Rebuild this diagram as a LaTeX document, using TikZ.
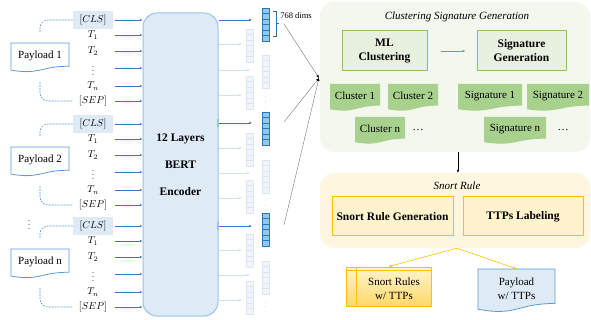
\documentclass[tikz,border=0pt]{standalone}
\usepackage{fontspec}
\setmainfont{Liberation Serif}
\usetikzlibrary{arrows.meta,calc}
\definecolor{bborder}{HTML}{9DC3E6}
\definecolor{pborder}{HTML}{5B9BD5}
\definecolor{barrow}{HTML}{4472C4}
\definecolor{encfill}{HTML}{DEEAF6}
\definecolor{clsfill}{HTML}{DEEBF7}
\definecolor{vdark}{HTML}{9DC3E6}
\definecolor{vdarkb}{HTML}{2E75B6}
\definecolor{vfade}{HTML}{F1F5FB}
\definecolor{vfadeb}{HTML}{DCE6F2}
\definecolor{afade}{HTML}{D3E0F2}
\definecolor{gpanel}{HTML}{F3F7EE}
\definecolor{gbox}{HTML}{E8F1DF}
\definecolor{gborder}{HTML}{8CC168}
\definecolor{garrow}{HTML}{70AD47}
\definecolor{gdoc}{HTML}{A9D18E}
\definecolor{ypanel}{HTML}{FFF6DF}
\definecolor{ybox}{HTML}{FFF2CC}
\definecolor{yborder}{HTML}{FFC000}
\definecolor{ytop}{HTML}{FFF4D2}
\definecolor{ybot}{HTML}{FFD966}
\definecolor{glin}{HTML}{808080}
\newcommand{\docshape}[5]{\draw[#1] (#2,#3) -- (#4,#3) -- (#4,{(#3)+0.802*((#5)-(#3))}) .. controls ({((#2)+(#4))/2},{(#3)+0.802*((#5)-(#3))}) and ({((#2)+(#4))/2},{(#3)+1.1075*((#5)-(#3))}) .. (#2,{(#3)+0.934*((#5)-(#3))}) -- cycle;}
\newcommand{\vecbar}[4]{%
  \node[#4vec] (#1) at ({#2+3.5},{#3+16.5}) {};
  \foreach \k in {1,...,5}{\draw[#4cell] (#2,{#3+5.5*\k}) -- ({#2+7},{#3+5.5*\k});}
}
\begin{document}
\begin{tikzpicture}[x=1pt,y=-1pt,
  base/.style={font=\fontsize{11}{13}\selectfont},
  tok/.style={minimum width=40pt,minimum height=0pt,inner sep=0pt,font=\fontsize{10}{12}\selectfont},
  tarr/.style={barrow,line width=0.5pt,-{Latex[length=2.5pt,width=2.2pt]},shorten <=2pt},
  darr/.style={barrow,line width=0.6pt,-{Latex[length=3pt,width=2.6pt]}},
  farr/.style={afade,line width=0.5pt,-{Latex[length=3pt,width=2.6pt]}},
  dconn/.style={pborder,line width=0.6pt,dash pattern=on 1.8pt off 1.2pt,rounded corners=8pt},
  enc/.style={font=\fontsize{11.5}{13}\selectfont\bfseries,draw=bborder,line width=1pt,fill=encfill,rounded corners=14pt,minimum width=75pt,minimum height=303pt,align=center},
  pdoc/.style={draw=pborder,line width=0.8pt,fill=white},
  ptext/.style={base,minimum width=58pt,minimum height=26pt,inner sep=0pt},
  darkvec/.style={draw=vdarkb,fill=vdark,line width=0.6pt,minimum width=7pt,minimum height=33pt,inner sep=0pt},
  darkcell/.style={vdarkb,line width=0.5pt},
  fadevec/.style={draw=vfadeb,fill=vfade,line width=0.5pt,minimum width=7pt,minimum height=33pt,inner sep=0pt},
  fadecell/.style={vfadeb,line width=0.4pt},
  glinst/.style={glin,line width=0.45pt,-{Latex[length=3pt,width=2.6pt,black]}},
  panel/.style={rounded corners=14pt,minimum width=270pt,inner sep=0pt},
  gboxst/.style={font=\fontsize{11.5}{14}\selectfont\bfseries,draw=gborder,line width=1pt,fill=gbox,align=center,inner sep=0pt},
  gdocst/.style={fill=gdoc,draw=none},
  dtext/.style={base,inner sep=0pt},
  yboxst/.style={font=\fontsize{11.5}{14}\selectfont\bfseries,draw=yborder,line width=1pt,fill=ybox,align=center,inner sep=0pt,minimum height=39pt},
  yarr/.style={yborder,line width=0.6pt,-{Latex[length=3pt,width=2.6pt]}},
  dotst/.style={fill=glin!60,draw=none}
]
\useasboundingbox (0,0) rectangle (591,320);

% ---------- encoder ----------
\node[enc] (enc) at (180.5,164.5) {12 Layers\\[14pt]BERT\\[14pt]Encoder};

% ---------- payload groups ----------
\foreach \g/\yb/\lab in {1/0/1,2/104/2,3/206/n}{
  \docshape{pdoc}{11}{43+\yb}{69}{72+\yb}
  \node[ptext] (p\g) at (40,56+\yb) {Payload \lab};
  \node[tok,fill=clsfill,minimum height=18pt] (c\g) at (93,20+\yb) {$[CLS]$};
  \node[tok] (ta\g) at (93,35+\yb) {$T_1$};
  \node[tok] (tb\g) at (93,51+\yb) {$T_2$};
  \node[tok,font=\fontsize{8}{9}\selectfont] (td\g) at (93,68+\yb) {$\vdots$};
  \node[tok] (tn\g) at (93,86+\yb) {$T_n$};
  \node[tok] (s\g) at (93,101+\yb) {$[SEP]$};
  \draw[dconn] ($(p\g.north)+(0,-11)$) |- (c\g.west);
  \draw[dconn] ($(p\g.south)+(0,13)$) |- (s\g.west);
  \foreach \t in {c,ta,tb,td,tn,s}{
    \draw[tarr] (\t\g.east) -- (\t\g.east -| enc.west);
  }
}
\node[tok,font=\fontsize{8}{9}\selectfont] (vd) at (29,222) {$\vdots$};

% ---------- encoder outputs ----------
\draw[bborder,line width=1.6pt] (218,119) -- (218,127);
\draw[bborder,line width=1.6pt] (218,222) -- (218,230);
\foreach \y/\e [count=\i] in {20/252,123/252,226/252}{
  \coordinate (ad\i) at (\e,\y);
  \draw[darr] (enc.east |- ad\i) -- (ad\i);
}
\foreach \y/\e [count=\i] in {44/242,70/250,95/242,148/242,173/250,198/242,250/242,275/250,300/242}{
  \coordinate (af\i) at (\e,\y);
  \draw[farr] (enc.east |- af\i) -- (af\i);
}
\foreach \yt [count=\i] in {29,76,133,180,234,281}{\vecbar{va\i}{246}{\yt}{fade}}
\foreach \yt [count=\i] in {55,160,261}{\vecbar{vb\i}{262}{\yt}{fade}}
\foreach \yt [count=\i] in {8,112,213}{\vecbar{vd\i}{262}{\yt}{dark}}
\foreach \yd in {97,200,302}{
  \foreach \k in {0,5,10}{\fill[dotst] (265.5,\yd+\k) circle (0.45pt);}
}

% ---------- 768 dims ----------
\draw[vdarkb,line width=0.6pt] (273,11) -- (276,11) -- (276,36) -- (273,36) (276,23.5) -- (279,23.5);
\node[font=\fontsize{8.5}{10}\selectfont,inner sep=0pt] (dims) at (296,16) {768 dims};

% ---------- clustering panel ----------
\node[panel,fill=gpanel,minimum height=150pt] (gp) at (455,77) {};
\node[font=\fontsize{11}{13}\selectfont\itshape,inner sep=0pt] (gt) at (457,17) {Clustering Signature Generation};
\node[gboxst,minimum width=85pt,minimum height=40pt] (ml) at (384.5,51) {ML\\Clustering};
\node[gboxst,minimum width=89pt,minimum height=40pt] (sg) at (521.5,51) {Signature\\Generation};
\draw[garrow,line width=0.8pt,-{Latex[length=3pt,width=2.6pt]},shorten <=13pt,shorten >=11pt] (ml) -- (sg);

\docshape{gdocst}{330}{84}{380}{111}
\node[dtext] (cl1) at (355,96) {Cluster 1};
\docshape{gdocst}{388}{84}{438}{111}
\node[dtext] (cl2) at (413,96) {Cluster 2};
\docshape{gdocst}{355}{117}{405}{144}
\node[dtext] (cln) at (380,129) {Cluster n};
\node[dtext] (cld) at (418,130) {\dots};
\docshape{gdocst}{458}{84}{522}{111}
\node[dtext] (sg1) at (490,96) {Signature 1};
\docshape{gdocst}{527}{84}{589}{111}
\node[dtext] (sg2) at (558,96) {Signature 2};
\docshape{gdocst}{484}{117}{546}{144}
\node[dtext] (sgn) at (515,129) {Signature n};
\node[dtext] (sgd) at (563,130) {\dots};

% ---------- converging lines ----------
\coordinate (conv) at (319,78);
\coordinate (g1) at (284,24);
\coordinate (g2) at (284,122);
\coordinate (g3) at (284,225);
\draw[glinst] (g1) -- (conv);
\draw[glinst] (g2) -- (conv);
\draw[glinst] (g3) -- (conv);

% ---------- snort panel ----------
\node[panel,fill=ypanel,minimum height=75pt] (yp) at (455,210.5) {};
\draw[black,line width=0.5pt,-{Latex[length=3pt,width=2.6pt]}] ($(gp.south)+(3,0)$) -- ($(yp.north)+(3,0)$);
\node[font=\fontsize{11}{13}\selectfont\itshape,inner sep=0pt] (yt) at (457,186) {Snort Rule};
\node[yboxst,minimum width=121pt] (srg) at (392.5,216.5) {Snort Rule Generation};
\node[yboxst,minimum width=120pt] (ttp) at (523,216.5) {TTPs Labeling};

% ---------- outputs ----------
\node[draw=yborder,line width=0.8pt,top color=ytop,bottom color=ybot,minimum width=85pt,minimum height=39pt,inner sep=0pt] (sr) at (388.5,286.5) {};
\draw[yborder,line width=0.8pt] ($(sr.north west)+(11,0)$) -- ($(sr.south west)+(11,0)$);
\draw[yborder,line width=0.8pt] ($(sr.north west)+(0,4)$) -- ($(sr.north east)+(0,4)$);
\node[align=center,font=\fontsize{11}{14}\selectfont] (srt) at (394,289) {Snort Rules\\w/ TTPs};

\docshape{draw=pborder,line width=0.8pt,fill=clsfill}{478}{269}{555}{312}
\node[align=center,font=\fontsize{11}{14}\selectfont,minimum width=77pt,minimum height=40pt,inner sep=0pt] (pw) at (516.5,289) {Payload\\w/ TTPs};

\coordinate (ys) at ($(yp.south)+(2,0)$);
\draw[yarr] (ys) -- (sr.north);
\draw[yarr] (ys) -- (pw.north);
\end{tikzpicture}
\end{document}
